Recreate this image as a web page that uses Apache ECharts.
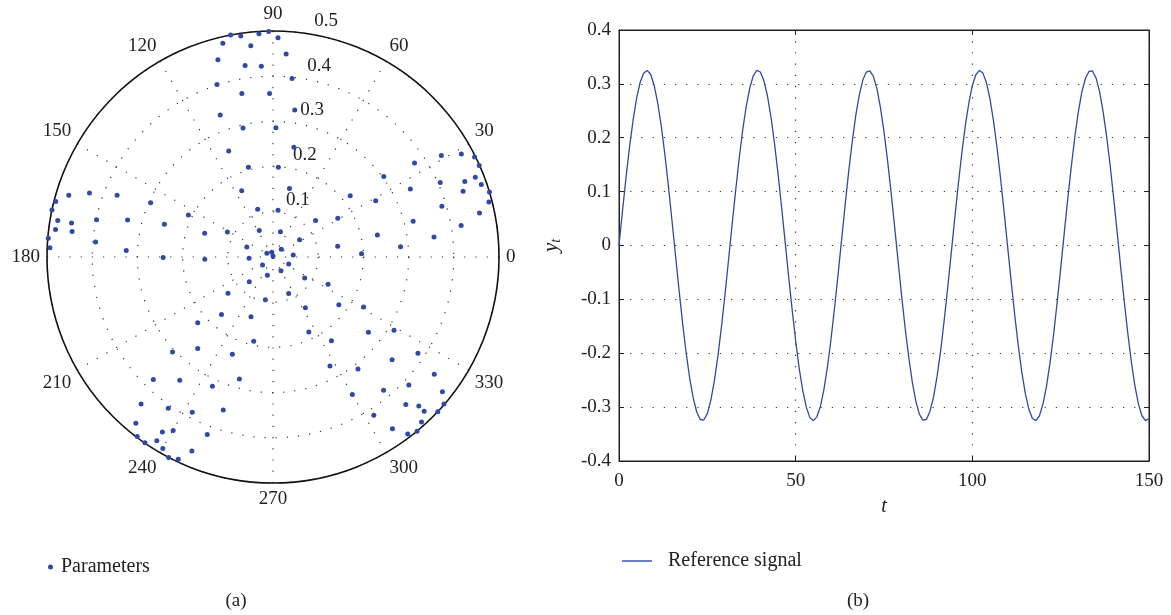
<!DOCTYPE html>
<html>
<head>
<meta charset="utf-8">
<script src="https://cdn.jsdelivr.net/npm/echarts@6/dist/echarts.min.js"></script>
<style>
html,body{margin:0;padding:0;background:#fff;}
#chart{width:1171px;height:615px;}
</style>
</head>
<body>
<div id="chart"></div>
<script>
// ---- Panel (a): parameter scatter in polar coordinates ----
const paramRadius = [
  0.500,0.494,0.495,0.499,0.485,0.486,0.470,0.453,0.428,0.423,
  0.401,0.368,0.362,0.335,0.293,0.286,0.254,0.206,0.199,0.162,
  0.111,0.104,0.066,0.062,0.016,0.002,0.011,0.053,0.151,0.243,
  0.496,0.472,0.430,0.371,0.500,0.483,0.452,0.399,0.332,0.296,
  0.209,0.251,0.160,0.115,0.485,0.448,0.499,0.494,0.394,0.325,
  0.450,0.397,0.329,0.247,0.156,0.124,0.167,0.218,0.259,0.303,
  0.339,0.376,0.435,0.475,0.498,0.499,0.405,0.456,0.481,0.488,
  0.445,0.500,0.493,0.390,0.467,0.320,0.422,0.359,0.236,0.283,
  0.145,0.196,0.070,0.025,0.045,0.058,0.029,0.042,0.076,0.128,
  0.096,0.171,0.141,0.221,0.191,0.262,0.306,0.233,0.280,0.379,
  0.342,0.316,0.437,0.407,0.387,0.356,0.477,0.458,0.443,0.419,
  0.498,0.499,0.481,0.489,0.465,0.500,0.494,0.038,0.035,0.084,
  0.136,0.088,0.133,0.180,0.229,0.184,0.226,0.269,0.313,0.272,
  0.311,0.348,0.385,0.441,0.413,0.383,0.351,0.479,0.439,0.461,
  0.499,0.478,0.500,0.415,0.491,0.463,0.492,0.500
];
const paramAngle = [
  100.8,98.3,93.6,91.1,88.7,103.2,96.0,105.6,98.3,93.5,
  108.0,100.8,91.2,110.4,103.1,88.7,112.7,105.3,86.6,115.3,
  107.8,83.9,117.3,159.2,148.3,90.0,104.6,183.1,181.9,180.2,
  165.7,163.2,160.8,158.4,168.0,170.4,170.4,168.1,165.7,156.1,
  153.6,163.2,160.9,151.3,172.8,172.8,175.2,177.6,175.2,177.5,
  86.3,83.9,81.6,79.2,76.5,40.6,30.9,38.4,28.7,36.0,
  26.3,33.6,31.1,28.7,26.4,23.9,24.0,21.5,21.5,19.2,
  19.1,16.7,14.3,16.7,12.0,14.3,9.5,7.1,11.9,4.6,
  9.4,2.1,32.9,42.5,5.6,73.5,217.0,252.7,226.3,218.9,
  259.9,228.2,249.8,221.1,257.1,230.5,223.4,247.3,254.6,225.7,
  232.9,244.9,228.1,235.3,242.5,252.0,230.5,237.7,240.1,249.7,
  232.9,235.4,237.7,240.1,247.3,242.5,244.9,336.0,300.3,326.5,
  333.6,293.2,302.6,324.0,331.1,295.5,304.9,321.7,328.8,297.6,
  307.2,319.2,326.4,324.0,316.7,309.7,300.0,321.5,312.0,314.4,
  319.3,314.4,316.8,302.5,312.0,304.8,307.3,309.6
];

// ---- Panel (b): reference signal y_t, t = 0..150 ----
const signalValues = [
  0.000,0.065,0.127,0.184,0.233,0.274,0.303,0.320,0.325,0.317,
  0.296,0.263,0.220,0.168,0.109,0.046,-0.019,-0.083,-0.144,-0.199,
  -0.246,-0.283,-0.309,-0.323,-0.324,-0.312,-0.287,-0.251,-0.205,-0.151,
  -0.091,-0.027,0.038,0.101,0.161,0.214,0.258,0.292,0.315,0.325,
  0.322,0.306,0.278,0.239,0.190,0.134,0.072,0.008,-0.057,-0.119,
  -0.177,-0.228,-0.269,-0.300,-0.319,-0.325,-0.318,-0.299,-0.267,-0.225,
  -0.174,-0.116,-0.054,0.011,0.075,0.137,0.192,0.241,0.279,0.307,
  0.322,0.324,0.314,0.291,0.256,0.211,0.158,0.099,0.035,-0.030,
  -0.094,-0.154,-0.207,-0.253,-0.289,-0.313,-0.324,-0.323,-0.308,-0.282,
  -0.244,-0.197,-0.141,-0.080,-0.016,0.049,0.112,0.170,0.222,0.264,
  0.297,0.317,0.325,0.320,0.302,0.272,0.231,0.181,0.124,0.062,
  -0.003,-0.067,-0.129,-0.186,-0.235,-0.275,-0.304,-0.321,-0.325,-0.316,
  -0.294,-0.261,-0.217,-0.165,-0.106,-0.043,0.022,0.086,0.146,0.201,
  0.248,0.285,0.310,0.323,0.324,0.311,0.286,0.249,0.203,0.149,
  0.088,0.024,-0.041,-0.104,-0.163,-0.216,-0.260,-0.294,-0.316,-0.325,
  -0.321
];

const yTickMin = -0.4, yTickMax = 0.4, yTickStep = 0.1;
const xTickMin = 0, xTickMax = 150, xTickStep = 50;
const radiusTickMax = 0.5, radiusTickStep = 0.1;
const angleTickStep = 30;

const FONT = "'Liberation Serif','DejaVu Serif',serif";
const BLUE = '#3049a6';
const DOT = '#333';
const FS = 19;

const scatterData = paramRadius.map((r, i) => [r, paramAngle[i]]);
const lineData = signalValues.map((v, i) => [i, v]);

const chart = echarts.init(document.getElementById('chart'), null, {renderer: 'canvas'});
const option = {
  animation: false,
  backgroundColor: '#fff',
  textStyle: {fontFamily: FONT, color: '#222'},
  title: [
    {text: '(a)', left: 231, top: 587, textAlign: 'center',
     textStyle: {fontFamily: FONT, fontSize: FS, fontWeight: 'normal', color: '#222'}},
    {text: '(b)', left: 853, top: 587, textAlign: 'center',
     textStyle: {fontFamily: FONT, fontSize: FS, fontWeight: 'normal', color: '#222'}}
  ],
  legend: [
    {data: ['Parameters'], left: 43, top: 552, icon: 'circle', itemWidth: 5, itemHeight: 5,
     itemStyle: {opacity: 1},
     textStyle: {fontFamily: FONT, fontSize: 20, color: '#222', padding: [0, 0, 0, 3]}},
    {data: [{name: 'Reference signal', icon: 'path://M0,0 L30,0 L30,1.4 L0,1.4 Z'}],
     left: 617, top: 546, itemWidth: 30, itemHeight: 2,
     textStyle: {fontFamily: FONT, fontSize: 20, color: '#222', padding: [0, 0, 0, 11]}}
  ],
  polar: [
    {center: [273, 257], radius: 226},
    {center: [273, 257], radius: 226}
  ],
  angleAxis: [
    {polarIndex: 0, type: 'value', min: 0, max: 360, interval: angleTickStep,
     startAngle: 0, clockwise: false,
     axisLine: {show: true, lineStyle: {color: '#111', width: 1.6}},
     axisTick: {show: false},
     axisLabel: {show: true, margin: 7, fontFamily: FONT, fontSize: FS, color: '#222',
       formatter: v => (v === 360 ? '' : String(v))},
     splitLine: {show: true, lineStyle: {color: DOT, width: 1.2, type: [1.2, 10]}}
    },
    {polarIndex: 1, type: 'value', min: 0, max: 360, startAngle: 81, clockwise: false,
     show: false}
  ],
  radiusAxis: [
    {polarIndex: 0, type: 'value', min: 0, max: radiusTickMax, interval: radiusTickStep,
     axisLine: {show: false}, axisTick: {show: false}, axisLabel: {show: false},
     splitLine: {show: true, lineStyle: {color: DOT, width: 1.2, type: [1.2, 10]}}
    },
    {polarIndex: 1, type: 'value', min: 0, max: radiusTickMax, interval: radiusTickStep,
     axisLine: {show: false}, axisTick: {show: false}, splitLine: {show: false},
     axisLabel: {show: true, margin: -6, align: 'left', verticalAlign: 'bottom',
       padding: [0, 0, 4, 0], fontFamily: FONT, fontSize: FS, color: '#222',
       formatter: v => (v === 0 ? '' : String(v))}
    }
  ],
  grid: {left: 619, top: 30, width: 530, height: 431, show: true,
         borderColor: '#222', borderWidth: 1, backgroundColor: 'transparent'},
  xAxis: [
    {type: 'value', min: xTickMin, max: xTickMax, interval: xTickStep, position: 'bottom',
     name: 't', nameLocation: 'middle', nameGap: 36,
     nameTextStyle: {fontFamily: FONT, fontSize: 20, fontStyle: 'italic', color: '#222'},
     axisLine: {show: true, onZero: false, lineStyle: {color: '#222'}},
     axisTick: {show: true, inside: true, length: 5, lineStyle: {color: '#222'}},
     axisLabel: {margin: 11, fontFamily: FONT, fontSize: FS, color: '#222'},
     splitLine: {show: true, lineStyle: {color: DOT, width: 1.2, type: [1.2, 10]}}
    },
    {type: 'value', min: xTickMin, max: xTickMax, interval: xTickStep, position: 'top',
     axisLine: {show: true, onZero: false, lineStyle: {color: '#222'}},
     axisTick: {show: true, inside: true, length: 5, lineStyle: {color: '#222'}},
     axisLabel: {show: false}, splitLine: {show: false}
    }
  ],
  yAxis: [
    {type: 'value', min: yTickMin, max: yTickMax, interval: yTickStep, position: 'left',
     name: '{i|y}{s|t}', nameLocation: 'middle', nameGap: 56, nameRotate: 90,
     nameTextStyle: {rich: {
       i: {fontFamily: FONT, fontSize: 21, fontStyle: 'italic', color: '#222'},
       s: {fontFamily: FONT, fontSize: 14, fontStyle: 'italic', color: '#222', verticalAlign: 'bottom', padding: [9, 0, 0, 0]}
     }},
     axisLine: {show: true, onZero: false, lineStyle: {color: '#222'}},
     axisTick: {show: true, inside: true, length: 5, lineStyle: {color: '#222'}},
     axisLabel: {margin: 8, fontFamily: FONT, fontSize: FS, color: '#222',
       formatter: v => (Math.abs(v) < 1e-9 ? '0' : v.toFixed(1))},
     splitLine: {show: true, lineStyle: {color: DOT, width: 1.2, type: [1.2, 10]}}
    },
    {type: 'value', min: yTickMin, max: yTickMax, interval: yTickStep, position: 'right',
     axisLine: {show: true, onZero: false, lineStyle: {color: '#222'}},
     axisTick: {show: true, inside: true, length: 5, lineStyle: {color: '#222'}},
     axisLabel: {show: false}, splitLine: {show: false}
    }
  ],
  series: [
    {name: 'Parameters', type: 'scatter', coordinateSystem: 'polar', polarIndex: 0,
     data: scatterData, symbol: 'circle', symbolSize: 5,
     itemStyle: {color: BLUE, opacity: 1}, z: 5},
    {name: 'Reference signal', type: 'line', xAxisIndex: 0, yAxisIndex: 0,
     data: lineData, symbol: 'none', showSymbol: false,
     lineStyle: {color: BLUE, width: 1.3}, itemStyle: {color: BLUE}}
  ]
};
chart.setOption(option);
</script>
</body>
</html>
